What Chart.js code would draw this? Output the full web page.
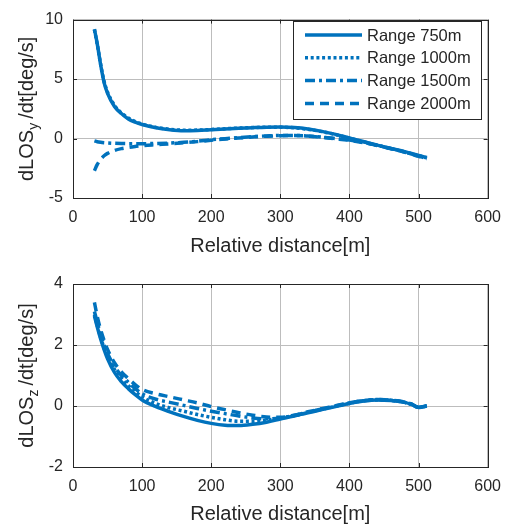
<!DOCTYPE html>
<html lang="en">

<head>
    <meta charset="UTF-8">
    <title>LOS rate vs relative distance</title>

    <style>
        html, body {
            margin: 0;
            padding: 0;
            background: #ffffff;
        }

        .wrap {
            position: relative;
            width: 511px;
            height: 526px;
        }

        .plot {
            position: absolute;
            left: 0;
            width: 511px;
            height: 263px;
        }

        #topPlot { top: 0; }
        #bottomPlot { top: 263px; }
    </style>
</head>

<body>
    <div class="wrap">
        <div class="plot" id="topPlot"><canvas id="losYChart" width="511" height="263"></canvas></div>
        <div class="plot" id="bottomPlot"><canvas id="losZChart" width="511" height="263"></canvas></div>
    </div>

    <script src="https://cdn.jsdelivr.net/npm/chart.js"></script>

    <script>
        // relative distance [m], shared by every series
        const distance = [31, 35, 40, 45, 50, 60, 70, 80, 90, 100, 120, 140, 160, 180, 200, 220,
            240, 260, 280, 300, 320, 340, 360, 380, 400, 420, 440, 460, 480, 490, 500, 512];

        const rangeLabels = ["Range 750m", "Range 1000m", "Range 1500m", "Range 2000m"];
        const xTicks = [0, 100, 200, 300, 400, 500, 600];
        const yTicksTop = [-5, 0, 5, 10];
        const yTicksBottom = [-2, 0, 2, 4];

        // dLOS_y/dt [deg/s]
        const losY750 = [9.2, 8.0, 6.2, 4.7, 3.8, 2.7, 2.1, 1.65, 1.38, 1.18, 0.9, 0.74, 0.66, 0.68, 0.74, 0.8,
            0.86, 0.91, 0.95, 0.96, 0.92, 0.8, 0.6, 0.35, 0.05, -0.25, -0.55, -0.83, -1.1, -1.25, -1.42, -1.6];
        const losY1000 = [9.15, 7.95, 6.25, 4.8, 3.9, 2.8, 2.15, 1.72, 1.43, 1.22, 0.94, 0.78, 0.7, 0.71, 0.76, 0.82,
            0.88, 0.92, 0.95, 0.95, 0.9, 0.78, 0.58, 0.33, 0.03, -0.27, -0.56, -0.85, -1.12, -1.28, -1.45, -1.62];
        const losY1500 = [-0.2, -0.27, -0.32, -0.35, -0.37, -0.4, -0.42, -0.43, -0.43, -0.43, -0.42, -0.38, -0.32, -0.23, -0.1, -0.01,
            0.08, 0.16, 0.22, 0.26, 0.26, 0.21, 0.12, 0.0, -0.13, -0.32, -0.56, -0.84, -1.13, -1.3, -1.47, -1.68];
        const losY2000 = [-2.7, -2.2, -1.75, -1.45, -1.25, -1.0, -0.85, -0.75, -0.67, -0.6, -0.52, -0.45, -0.36, -0.26, -0.14, -0.04,
            0.05, 0.13, 0.2, 0.24, 0.25, 0.2, 0.1, -0.02, -0.15, -0.34, -0.58, -0.86, -1.15, -1.32, -1.5, -1.7];

        // dLOS_z/dt [deg/s]
        const losZ750 = [2.95, 2.6, 2.2, 1.85, 1.55, 1.1, 0.8, 0.57, 0.37, 0.2, -0.02, -0.19, -0.34, -0.47, -0.57, -0.63,
            -0.64, -0.6, -0.53, -0.43, -0.33, -0.22, -0.12, -0.02, 0.08, 0.16, 0.2, 0.18, 0.12, 0.05, -0.05, 0.0];
        const losZ1000 = [3.0, 2.65, 2.25, 1.9, 1.62, 1.2, 0.9, 0.67, 0.47, 0.3, 0.08, -0.06, -0.17, -0.28, -0.37, -0.45,
            -0.5, -0.5, -0.46, -0.4, -0.32, -0.21, -0.11, -0.01, 0.09, 0.17, 0.2, 0.18, 0.12, 0.05, -0.05, 0.0];
        const losZ1500 = [3.1, 2.75, 2.35, 2.0, 1.72, 1.3, 1.0, 0.78, 0.57, 0.4, 0.22, 0.12, 0.02, -0.08, -0.17, -0.25,
            -0.33, -0.39, -0.42, -0.39, -0.31, -0.2, -0.1, 0.0, 0.1, 0.17, 0.21, 0.19, 0.12, 0.06, -0.04, 0.0];
        const losZ2000 = [3.4, 2.95, 2.5, 2.15, 1.85, 1.42, 1.12, 0.9, 0.7, 0.54, 0.4, 0.3, 0.2, 0.1, -0.02, -0.12,
            -0.22, -0.3, -0.36, -0.37, -0.3, -0.19, -0.09, 0.01, 0.11, 0.18, 0.21, 0.19, 0.13, 0.06, -0.04, 0.0];

        const lineColor = "#0072BD";
        const textColor = "#262626";
        const fontFamily = "'Liberation Sans', Arial, Helvetica, sans-serif";
        const dashes = [[], [3, 2.7], [10, 4, 3, 4], [9, 6]];

        function makeDatasets(seriesList) {
            return seriesList.map((values, i) => ({
                label: rangeLabels[i],
                data: values.map((v, k) => ({ x: distance[k], y: v })),
                borderColor: lineColor,
                borderWidth: 3.5,
                borderDash: dashes[i],
                borderCapStyle: "butt",
                pointRadius: 0,
                fill: false,
                cubicInterpolationMode: "monotone",
                order: 4 - i  // later series drawn on top, like matlab
            }));
        }

        // box around the axes plus small inward ticks
        const axesBox = {
            id: "axesBox",
            afterDraw(chart) {
                const ctx = chart.ctx;
                const a = chart.chartArea;
                const xs = chart.scales.x;
                const ys = chart.scales.y;
                ctx.save();
                ctx.strokeStyle = textColor;
                ctx.lineWidth = 1;
                ctx.beginPath();
                xs.ticks.forEach(t => {
                    const px = Math.round(xs.getPixelForValue(t.value)) + 0.5;
                    ctx.moveTo(px, a.bottom); ctx.lineTo(px, a.bottom - 4);
                    ctx.moveTo(px, a.top); ctx.lineTo(px, a.top + 4);
                });
                ys.ticks.forEach(t => {
                    const py = Math.round(ys.getPixelForValue(t.value)) + 0.5;
                    ctx.moveTo(a.left, py); ctx.lineTo(a.left + 4, py);
                    ctx.moveTo(a.right, py); ctx.lineTo(a.right - 4, py);
                });
                ctx.stroke();
                ctx.strokeRect(Math.round(a.left) + 0.5, Math.round(a.top) + 0.5,
                    Math.round(a.right - a.left), Math.round(a.bottom - a.top));
                ctx.restore();
            }
        };

        // y title with a subscript letter
        const yTitle = {
            id: "yTitle",
            afterDraw(chart, args, opts) {
                const ctx = chart.ctx;
                const a = chart.chartArea;
                const big = "20px " + fontFamily;
                const small = "14px " + fontFamily;
                ctx.save();
                ctx.fillStyle = textColor;
                ctx.font = big;
                const w1 = ctx.measureText("dLOS").width;
                const w3 = ctx.measureText("/dt[deg/s]").width;
                ctx.font = small;
                const w2 = ctx.measureText(opts.sub).width;
                const gap = 4;
                const total = w1 + w2 + gap + w3;
                ctx.translate(33, (a.top + a.bottom) / 2);
                ctx.rotate(-Math.PI / 2);
                ctx.textBaseline = "alphabetic";
                ctx.textAlign = "left";
                let x = -total / 2;
                ctx.font = big;
                ctx.fillText("dLOS", x, 0);
                x += w1;
                ctx.font = small;
                ctx.fillText(opts.sub, x, 5);
                x += w2 + gap;
                ctx.font = big;
                ctx.fillText("/dt[deg/s]", x, 0);
                ctx.restore();
            }
        };

        // matlab style legend box in the upper right
        const boxLegend = {
            id: "boxLegend",
            afterDraw(chart, args, opts) {
                if (!opts.show) return;
                const ctx = chart.ctx;
                const left = 293.5, top = 21.5, right = 481.5, bottom = 119.5;
                ctx.save();
                ctx.fillStyle = "#ffffff";
                ctx.fillRect(left, top, right - left, bottom - top);
                ctx.strokeStyle = textColor;
                ctx.lineWidth = 1;
                ctx.strokeRect(left, top, right - left, bottom - top);
                ctx.font = "16.5px " + fontFamily;
                ctx.textBaseline = "middle";
                chart.data.datasets.forEach((ds, i) => {
                    const y = 35 + i * 22.8;
                    ctx.strokeStyle = ds.borderColor;
                    ctx.lineWidth = ds.borderWidth;
                    ctx.setLineDash(ds.borderDash);
                    ctx.beginPath();
                    ctx.moveTo(305, y);
                    ctx.lineTo(362, y);
                    ctx.stroke();
                    ctx.setLineDash([]);
                    ctx.fillStyle = textColor;
                    ctx.fillText(ds.label, 367, y + 1);
                });
                ctx.restore();
            }
        };

        function makeChart(canvasId, seriesList, yTicks, sub, padTop, titlePad, showLegend) {
            const ctx = document.getElementById(canvasId).getContext("2d");
            return new Chart(ctx, {
                type: "line",
                data: { datasets: makeDatasets(seriesList) },
                options: {
                    responsive: false,
                    animation: false,
                    layout: { padding: { left: 0, right: 22, top: padTop, bottom: 0 } },
                    plugins: {
                        legend: { display: false },
                        tooltip: { enabled: false },
                        yTitle: { sub: sub },
                        boxLegend: { show: showLegend }
                    },
                    scales: {
                        x: {
                            type: "linear",
                            min: xTicks[0],
                            max: xTicks[xTicks.length - 1],
                            afterBuildTicks: s => { s.ticks = xTicks.map(v => ({ value: v })); },
                            grid: { color: "#bdbdbd", lineWidth: 1, drawTicks: false },
                            border: { display: false },
                            ticks: {
                                color: textColor,
                                padding: 10,
                                maxRotation: 0,
                                font: { family: fontFamily, size: 16 }
                            },
                            title: {
                                display: true,
                                text: "Relative distance[m]",
                                color: textColor,
                                font: { family: fontFamily, size: 20, lineHeight: 1.2 },
                                padding: { top: 0, bottom: titlePad }
                            },
                            afterFit: s => { s.height = 263 - padTop - 183; }
                        },
                        y: {
                            type: "linear",
                            min: yTicks[0],
                            max: yTicks[yTicks.length - 1],
                            afterBuildTicks: s => { s.ticks = yTicks.map(v => ({ value: v })); },
                            grid: { color: "#bdbdbd", lineWidth: 1, drawTicks: false },
                            border: { display: false },
                            ticks: {
                                color: textColor,
                                padding: 10,
                                font: { family: fontFamily, size: 16 }
                            },
                            afterFit: s => { s.width = 73; }
                        }
                    }
                },
                plugins: [axesBox, yTitle, boxLegend]
            });
        }

        makeChart("losYChart", [losY750, losY1000, losY1500, losY2000], yTicksTop, "y", 15, 5, true);
        makeChart("losZChart", [losZ750, losZ1000, losZ1500, losZ2000], yTicksBottom, "z", 21, 0, false);
    </script>
</body>

</html>
